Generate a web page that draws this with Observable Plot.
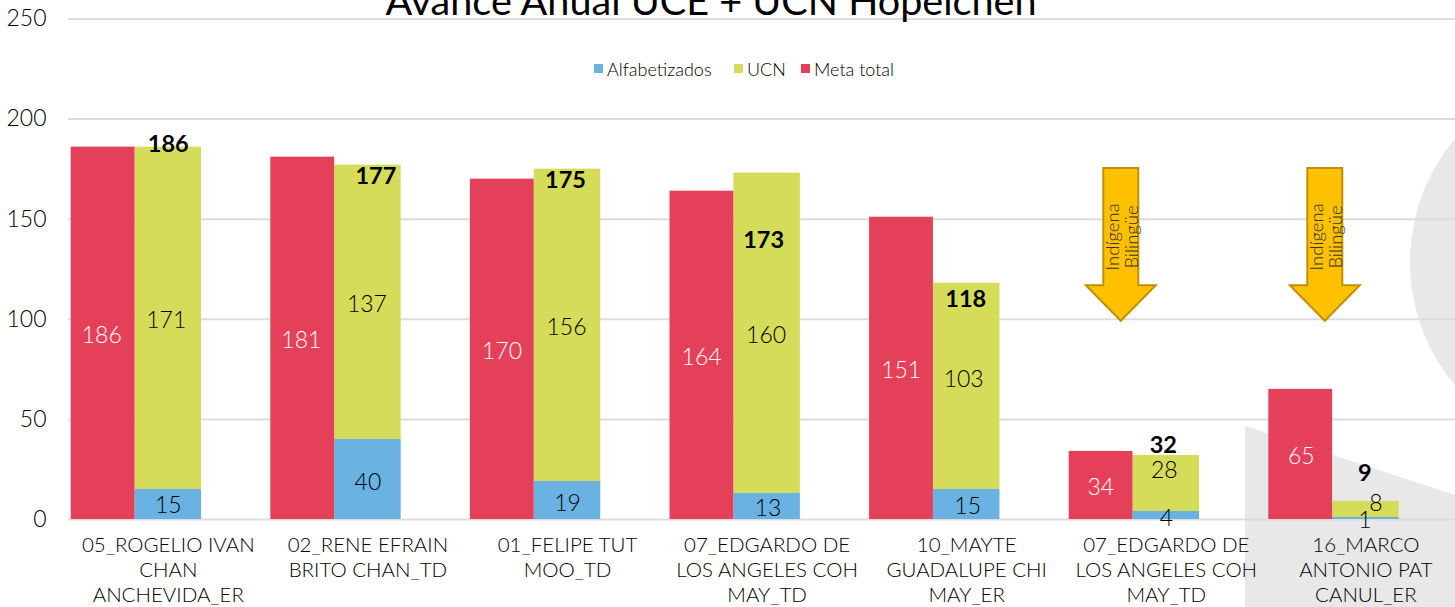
<!DOCTYPE html>
<html lang="es">
<head>
<meta charset="utf-8">
<title>Avance Anual UCE + UCN Hopelchen</title>
<script src="https://cdn.jsdelivr.net/npm/d3@7"></script>
<script src="https://cdn.jsdelivr.net/npm/@observablehq/plot@0.6"></script>
<style>
  html, body { margin: 0; padding: 0; background: #fff; overflow: hidden; }
  #stage { position: relative; width: 1455px; height: 607px; overflow: hidden; }
  #legend { position: absolute; top: 59px; left: 0; height: 20px; font: 300 18px Lato, sans-serif; color: #000; }
  #legend span { position: absolute; white-space: nowrap; line-height: 20px; }
  #legend i { position: absolute; top: 5px; width: 9px; height: 9px; }
  g[aria-label="avance"] { filter: drop-shadow(3px 3px 4px rgba(0,0,0,.13)); }
</style>
</head>
<body>
<div id="stage"></div>
<script>
// ---- data ----
const titleText = "Avance Anual UCE + UCN Hopelchen";
const teachers = [
  "05_ROGELIO IVAN\nCHAN\nANCHEVIDA_ER",
  "02_RENE EFRAIN\nBRITO CHAN_TD",
  "01_FELIPE TUT\nMOO_TD",
  "07_EDGARDO DE\nLOS ANGELES COH\nMAY_TD",
  "10_MAYTE\nGUADALUPE CHI\nMAY_ER",
  "07_EDGARDO DE\nLOS ANGELES COH\nMAY_TD",
  "16_MARCO\nANTONIO PAT\nCANUL_ER"
];
const metaTotal = [186, 181, 170, 164, 151, 34, 65];
const alfabetizados = [15, 40, 19, 13, 15, 4, 1];
const ucn = [171, 137, 156, 160, 103, 28, 8];
const totals = [186, 177, 175, 173, 118, 32, 9];
const yTicks = [0, 50, 100, 150, 200, 250];
const arrowLines = ["Indígena", "Bilingüe"];

// ---- manual label placement of the original chart (pixels) ----
const nudgeMeta = {dx: [0, 0, 1, 1, 1, 1, 2], dy: [2, 2, 2, 2, 2, 2, 2]};
const nudgeAlf = {dx: [0, 0, 0, 1, 1, 0, -1], dy: [1, 3, 3, 2, 2, 3, 2]};
const nudgeUcn = {dx: [-2, -1, -1, -1, -3, -2, 10], dy: [2, 2, 2, 2, -7, -13, -6]};
const nudgeTotal = {dx: [0, 8, -2, -3.5, -1, -3, -1], dy: [-3, 11, 11, 67, 16, -10, -28]};

// ---- style ----
const FONT = "Lato, sans-serif";
const INK = "#000";
const RED = "#E4405A", GREEN = "#D4DC5A", BLUE = "#6AB2E1", GRID = "#DCDCDC", SHAPE = "#E8E8E8";

// ---- tidy rows built from the arrays ----
const slot = (i, s) => `${i}:${s}`;
const xDomain = teachers.flatMap((_, i) => [slot(i, "meta"), slot(i, "avance"), slot(i, "gap")]);
const rows = teachers.flatMap((_, i) => [
  {key: slot(i, "avance"), series: "Alfabetizados", value: alfabetizados[i], base: 0},
  {key: slot(i, "avance"), series: "UCN", value: ucn[i], base: alfabetizados[i]}
]);
const metaRows = teachers.map((_, i) => ({key: slot(i, "meta"), series: "Meta total", value: metaTotal[i]}));

const colorOf = {"Alfabetizados": BLUE, "UCN": GREEN, "Meta total": RED};

function labelMarks() {
  const out = [];
  const add = (key, y, text, dx, dy, fill, weight, size) =>
    out.push(Plot.text([text], {x: () => key, y: () => y, text: d => String(d), dx, dy, fill,
      fontSize: size, fontWeight: weight, fontFamily: FONT}));
  teachers.forEach((_, i) => {
    add(slot(i, "meta"), metaTotal[i] / 2, metaTotal[i], nudgeMeta.dx[i], nudgeMeta.dy[i], "#fff", 300, 23);
    add(slot(i, "avance"), alfabetizados[i] / 2, alfabetizados[i], nudgeAlf.dx[i], nudgeAlf.dy[i], "#000", 300, 23);
    add(slot(i, "avance"), alfabetizados[i] + ucn[i] / 2, ucn[i], nudgeUcn.dx[i], nudgeUcn.dy[i], "#000", 300, 23);
    add(slot(i, "avance"), totals[i], totals[i], nudgeTotal.dx[i], nudgeTotal.dy[i], "#000", 700, 23.5);
  });
  return out;
}

// decorative template shapes behind the chart
function backdrop() {
  const g = d3.create("svg:g").attr("aria-label", "backdrop");
  g.append("polygon").attr("points", "1245,426 1455,495 1455,607 1245,607").attr("fill", SHAPE);
  g.append("circle").attr("cx", 1602).attr("cy", 262).attr("r", 192).attr("fill", SHAPE);
  return g.node();
}

// callout arrows, placed with the y scale
function arrows(index, {y}) {
  const g = d3.create("svg:g").attr("aria-label", "callouts");
  const top = y(175.3), neck = y(116.8), tip = y(99);
  for (const cx of [1120.8, 1324.8]) {
    g.append("polygon")
      .attr("points", [[cx - 17.5, top], [cx + 17.5, top], [cx + 17.5, neck], [cx + 35, neck], [cx, tip],
                       [cx - 35, neck], [cx - 17.5, neck]].join(" "))
      .attr("fill", "#FFC000").attr("stroke", "#BF9000").attr("stroke-width", 2);
    arrowLines.forEach((t, j) => {
      g.append("text").text(t)
        .attr("transform", `translate(${cx - 8 + j * 19},237) rotate(-90)`)
        .attr("text-anchor", "middle").attr("dy", "0.32em")
        .attr("font-family", FONT).attr("font-weight", 300).attr("font-size", 18.5).attr("fill", "#333");
    });
  }
  return g.node();
}

const chart = Plot.plot({
  width: 1455, height: 607,
  marginLeft: 68, marginRight: 0, marginTop: 0, marginBottom: 0,
  style: {fontFamily: FONT, background: "transparent"},
  x: {type: "band", domain: xDomain, range: [68, 68 + 199.6 * 7], padding: 0, round: false, axis: null},
  y: {domain: [0, 250], range: [519, 18.5]},
  marks: [
    backdrop,
    Plot.ruleY(yTicks, {stroke: GRID, strokeWidth: 2}),
    Plot.barY(rows, {x: "key", y1: "base", y2: d => d.base + d.value, fill: d => colorOf[d.series], ariaLabel: "avance"}),
    Plot.barY(metaRows, {x: "key", y: "value", fill: d => colorOf[d.series], insetLeft: 2.7}),
    Plot.axisY({ticks: yTicks, tickSize: 0, tickPadding: 22, fontSize: 23, fontWeight: 300, fill: INK, label: null}),
    Plot.text(teachers, {
      x: (_, i) => slot(i, "avance"), y: () => 0, text: d => d, lineAnchor: "top", dy: 15,
      fontSize: 20.5, fontWeight: 300, lineHeight: 1.22, fill: INK, fontFamily: FONT
    }),
    Plot.text([titleText], {
      frameAnchor: "top-left", dx: 710.5 - 68, dy: 14, lineAnchor: "bottom", text: d => d,
      textAnchor: "middle", fontSize: 39.6, fill: "#000", fontFamily: FONT
    }),
    arrows,
    ...labelMarks()
  ]
});

const stage = document.getElementById("stage");
stage.appendChild(chart);

// legend
const legend = document.createElement("div");
legend.id = "legend";
[["Alfabetizados", 594, 607], ["UCN", 733.5, 747], ["Meta total", 801, 814]].forEach(([name, sw, tx]) => {
  const i = document.createElement("i");
  i.style.left = sw + "px";
  i.style.background = colorOf[name];
  const s = document.createElement("span");
  s.style.left = tx + "px";
  s.textContent = name;
  legend.append(i, s);
});
stage.appendChild(legend);
</script>
</body>
</html>
